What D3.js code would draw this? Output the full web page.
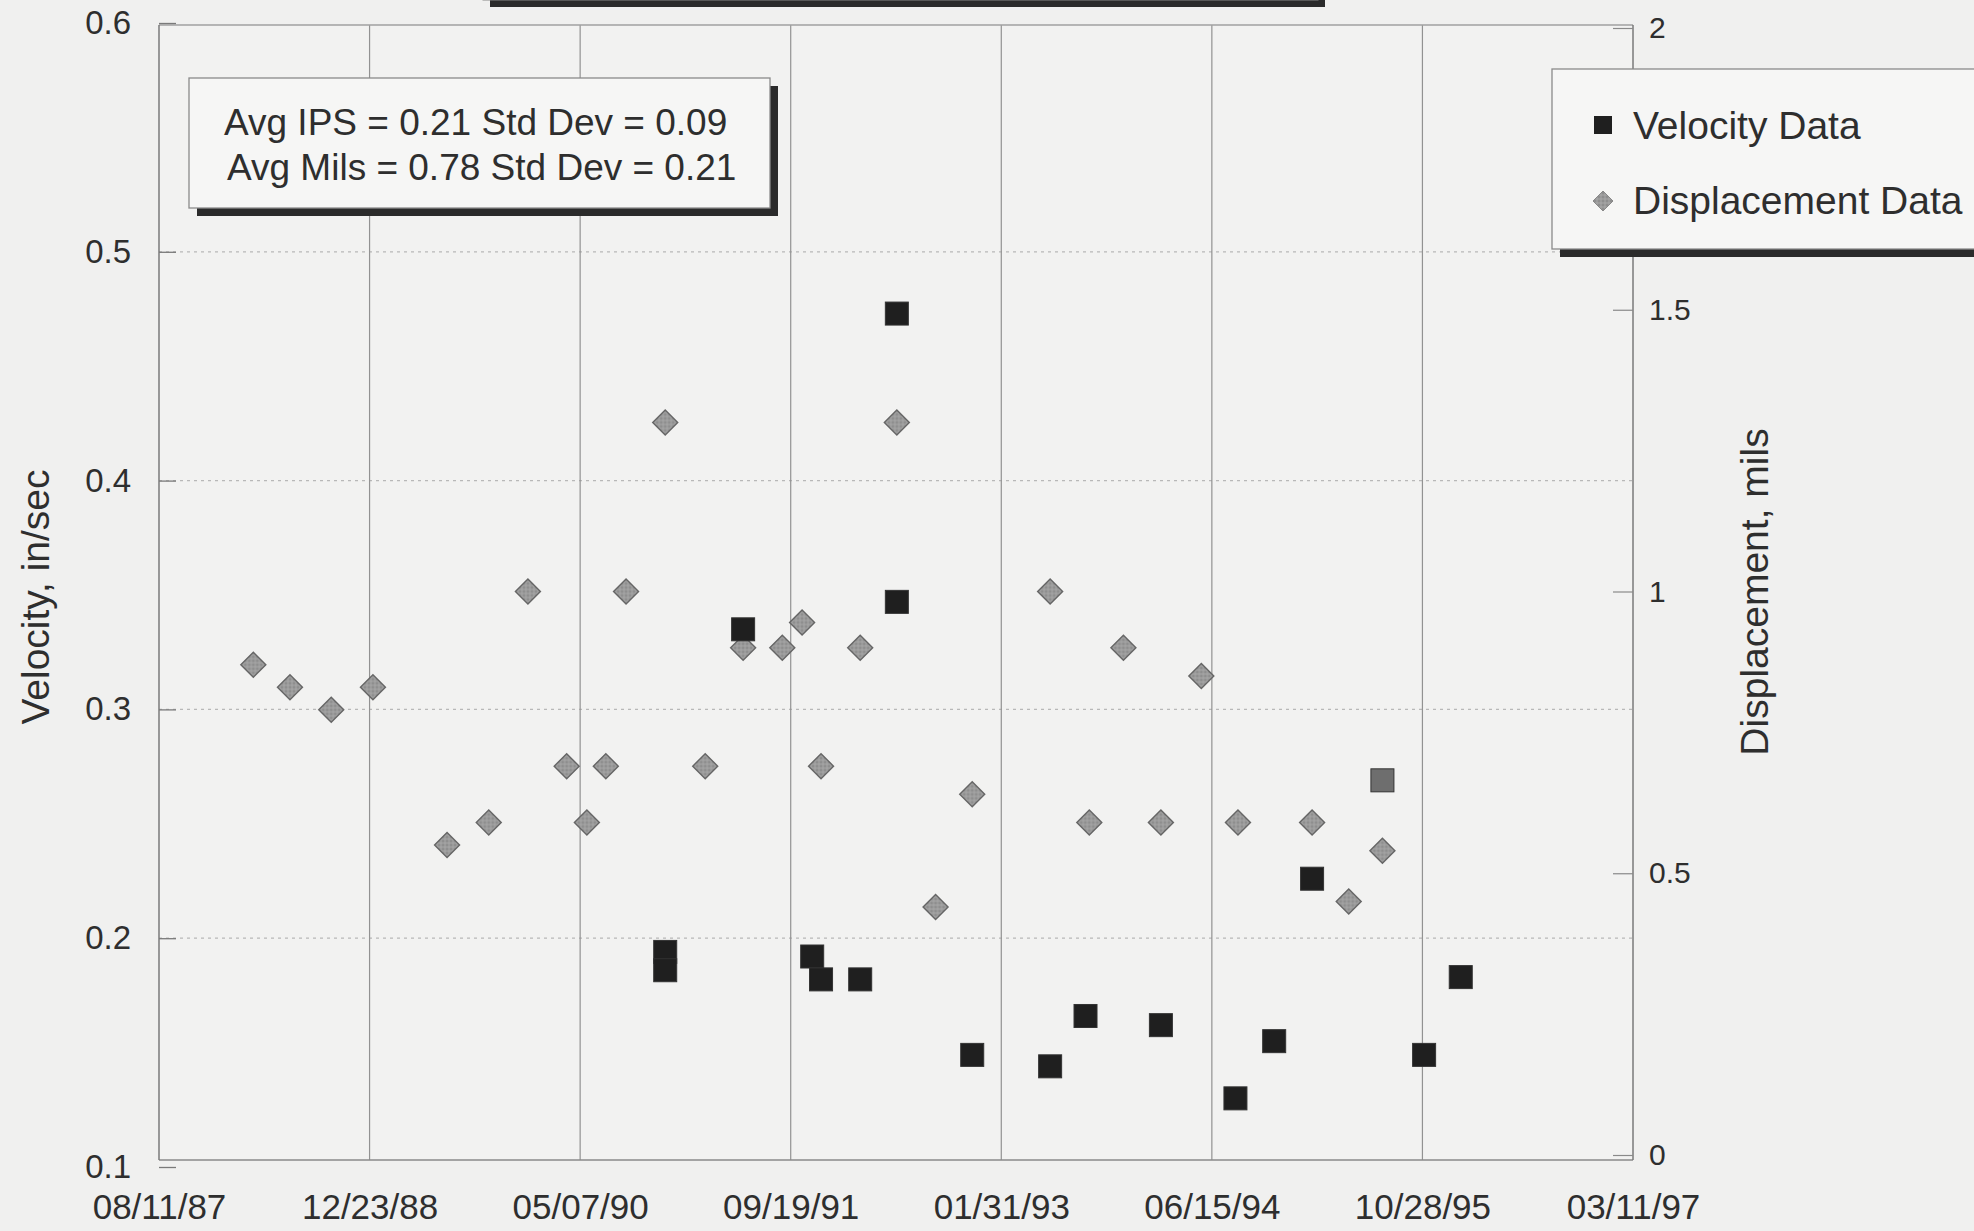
<!DOCTYPE html>
<html>
<head>
<meta charset="utf-8">
<script src="https://cdn.jsdelivr.net/npm/d3@7"></script>
<style>
  html, body { margin: 0; padding: 0; background: #f0f0ef; overflow: hidden; }
  svg { display: block; }
  text { font-family: "Liberation Sans", Arial, sans-serif; fill: #2e2e2e; }
</style>
</head>
<body>
<svg id="chart" width="1974" height="1231"></svg>
<script>
// ---------------- DATA ----------------
const xTickLabels = ["08/11/87", "12/23/88", "05/07/90", "09/19/91", "01/31/93", "06/15/94", "10/28/95", "03/11/97"];
const leftTicks = [0.1, 0.2, 0.3, 0.4, 0.5, 0.6];
const rightTicks = [0, 0.5, 1, 1.5, 2];

const velocityDates = [
  "1990-11-25", "1990-11-25", "1991-05-29", "1991-11-09", "1991-11-30", "1992-03-02",
  "1992-05-28", "1992-05-28", "1992-11-23", "1993-05-27", "1993-08-19", "1994-02-14",
  "1994-08-10", "1994-11-10", "1995-02-08", "1995-07-25", "1995-11-01", "1996-01-27"
];
const velocityValues = [
  0.194, 0.186, 0.335, 0.192, 0.182, 0.182,
  0.473, 0.347, 0.149, 0.144, 0.166, 0.162,
  0.130, 0.155, 0.226, 0.269, 0.149, 0.183
];

const displacementDates = [
  "1988-03-22", "1988-06-17", "1988-09-23", "1988-12-31", "1989-06-25", "1989-10-02",
  "1990-01-03", "1990-04-05", "1990-05-23", "1990-07-07", "1990-08-24", "1990-11-25",
  "1991-02-28", "1991-05-29", "1991-08-30", "1991-10-16", "1991-11-30", "1992-03-02",
  "1992-05-28", "1992-08-28", "1992-11-23", "1993-05-27", "1993-08-28", "1993-11-17",
  "1994-02-14", "1994-05-21", "1994-08-16", "1995-02-08", "1995-05-06", "1995-07-25"
];
const displacementValues = [
  0.87, 0.83, 0.79, 0.83, 0.55, 0.59,
  1.00, 0.69, 0.59, 0.69, 1.00, 1.30,
  0.69, 0.90, 0.90, 0.945, 0.69, 0.90,
  1.30, 0.44, 0.64, 1.00, 0.59, 0.90,
  0.59, 0.85, 0.59, 0.59, 0.45, 0.54
];

const statsLines = ["Avg IPS = 0.21 Std Dev = 0.09", "Avg Mils = 0.78 Std Dev = 0.21"];
const seriesNames = ["Velocity Data", "Displacement Data"];
const leftTitle = "Velocity, in/sec";
const rightTitle = "Displacement, mils";

// ---------------- LAYOUT ----------------
const svg = d3.select("#chart");
const parseISO = d3.utcParse("%Y-%m-%d");
const parseTick = d3.utcParse("%m/%d/%y");
const fmtTick = d3.utcFormat("%m/%d/%y");
const tickDates = xTickLabels.map(parseTick);

const plot = { left: 159, right: 1633, top: 25, bottom: 1160 };

const x = d3.scaleUtc()
  .domain([tickDates[0], tickDates[tickDates.length - 1]])
  .range([plot.left, plot.right]);
const yL = d3.scaleLinear().domain([0.1, 0.6]).range([1167, 23]);
const yR = d3.scaleLinear().domain([0, 2]).range([1155, 28]);

// plot frame background
svg.append("rect")
  .attr("x", plot.left).attr("y", plot.top)
  .attr("width", plot.right - plot.left).attr("height", plot.bottom - plot.top)
  .attr("fill", "#f2f2f1");

// horizontal gridlines (faint, dotted)
svg.append("g").selectAll("line")
  .data(leftTicks.filter(d => d > 0.1 && d < 0.6))
  .join("line")
  .attr("x1", plot.left).attr("x2", plot.right)
  .attr("y1", d => yL(d)).attr("y2", d => yL(d))
  .attr("stroke", "#b8b8b8").attr("stroke-width", 1.2)
  .attr("stroke-dasharray", "3,4");

// vertical gridlines
svg.append("g").selectAll("line")
  .data(tickDates.slice(1, -1))
  .join("line")
  .attr("x1", d => x(d)).attr("x2", d => x(d))
  .attr("y1", plot.top).attr("y2", plot.bottom)
  .attr("stroke", "#929292").attr("stroke-width", 1.2);

// frame lines
svg.append("line").attr("x1", plot.left).attr("x2", plot.right)
  .attr("y1", plot.top).attr("y2", plot.top)
  .attr("stroke", "#a0a0a0").attr("stroke-width", 1.3);
svg.append("line").attr("x1", plot.left).attr("x2", plot.right)
  .attr("y1", plot.bottom).attr("y2", plot.bottom)
  .attr("stroke", "#8a8a8a").attr("stroke-width", 1.5);

// left axis
const gL = svg.append("g").attr("transform", `translate(${plot.left},0)`)
  .call(d3.axisLeft(yL).tickValues(leftTicks).tickFormat(d3.format(".1f"))
    .tickSizeInner(-17).tickSizeOuter(0).tickPadding(28));
gL.select(".domain").attr("stroke", "#7a7a7a").attr("stroke-width", 1.5)
  .attr("d", `M0,${plot.top}V${plot.bottom}`);
gL.selectAll(".tick line").attr("stroke", "#7a7a7a").attr("stroke-width", 1.3);
gL.selectAll(".tick text").attr("font-size", 33).attr("fill", "#333")
  .style("font-family", '"Liberation Sans", Arial, sans-serif');

// right axis
const gR = svg.append("g").attr("transform", `translate(${plot.right},0)`)
  .call(d3.axisRight(yR).tickValues(rightTicks).tickFormat(d => String(d))
    .tickSizeInner(-20).tickSizeOuter(0).tickPadding(16));
gR.select(".domain").attr("stroke", "#7a7a7a").attr("stroke-width", 1.5)
  .attr("d", `M0,${plot.top}V${plot.bottom}`);
gR.selectAll(".tick line").attr("stroke", "#8a8a8a").attr("stroke-width", 1.2);
gR.selectAll(".tick text").attr("font-size", 30).attr("fill", "#333")
  .style("font-family", '"Liberation Sans", Arial, sans-serif');

// bottom axis
const gB = svg.append("g").attr("transform", `translate(0,${plot.bottom})`)
  .call(d3.axisBottom(x).tickValues(tickDates).tickFormat(fmtTick)
    .tickSize(0).tickPadding(34));
gB.select(".domain").remove();
gB.selectAll(".tick text").attr("font-size", 35).attr("fill", "#333")
  .style("font-family", '"Liberation Sans", Arial, sans-serif');

// axis titles
svg.append("text")
  .attr("transform", "translate(35,597) rotate(-90)")
  .attr("text-anchor", "middle").attr("dominant-baseline", "central")
  .attr("font-size", 39).attr("fill", "#333")
  .text(leftTitle);
svg.append("text")
  .attr("transform", "translate(1754,592) rotate(-90)")
  .attr("text-anchor", "middle").attr("dominant-baseline", "central")
  .attr("font-size", 39).attr("fill", "#333")
  .text(rightTitle);

// ---------------- MARKS ----------------
const defs = svg.append("defs");
const pat = defs.append("pattern").attr("id", "hatch")
  .attr("width", 4).attr("height", 4).attr("patternUnits", "userSpaceOnUse");
pat.append("rect").attr("width", 4).attr("height", 4).attr("fill", "#8e8e8e");
pat.append("path").attr("d", "M0,2H4M2,0V4").attr("stroke", "#a9a9a9").attr("stroke-width", 1);

const dispData = displacementDates.map((d, i) => ({ date: parseISO(d), value: displacementValues[i] }));
const velData = velocityDates.map((d, i) => ({ date: parseISO(d), value: velocityValues[i] }));

const dSize = 12.5; // half-diagonal
svg.append("g").selectAll("path")
  .data(dispData)
  .join("path")
  .attr("transform", d => `translate(${x(d.date)},${yR(d.value)})`)
  .attr("d", `M0,${-dSize}L${dSize},0L0,${dSize}L${-dSize},0Z`)
  .attr("fill", "url(#hatch)").attr("stroke", "#666").attr("stroke-width", 1.4);

const sq = 23;
svg.append("g").selectAll("rect")
  .data(velData)
  .join("rect")
  .attr("x", d => x(d.date) - sq / 2)
  .attr("y", d => yL(d.value) - sq / 2)
  .attr("width", sq).attr("height", sq)
  .attr("fill", (d, i) => i === 15 ? "#6e6e6e" : "#1f1f1f")
  .attr("stroke", "#333").attr("stroke-width", 1);

// ---------------- BOXES ----------------
// top (cut-off) title box shadow
svg.append("rect").attr("x", 490).attr("y", -73).attr("width", 835).attr("height", 80).attr("fill", "#2b2b2b");
svg.append("rect").attr("x", 483).attr("y", -80).attr("width", 835).attr("height", 80)
  .attr("fill", "#f4f4f3").attr("stroke", "#888");

// stats box
svg.append("rect").attr("x", 197).attr("y", 86).attr("width", 581).attr("height", 130).attr("fill", "#2b2b2b");
svg.append("rect").attr("x", 189).attr("y", 78).attr("width", 581).attr("height", 130)
  .attr("fill", "#f6f6f5").attr("stroke", "#8a8a8a").attr("stroke-width", 1.3);
svg.append("g").selectAll("text")
  .data(statsLines)
  .join("text")
  .attr("x", (d, i) => 224 + i * 3)
  .attr("y", (d, i) => 135 + i * 45)
  .attr("font-size", 37).attr("fill", "#2a2a2a")
  .text(d => d);

// legend box
svg.append("rect").attr("x", 1560).attr("y", 77).attr("width", 500).attr("height", 180).attr("fill", "#2b2b2b");
svg.append("rect").attr("x", 1552).attr("y", 69).attr("width", 500).attr("height", 180)
  .attr("fill", "#f6f6f5").attr("stroke", "#8a8a8a").attr("stroke-width", 1.3);

const legend = svg.append("g");
legend.append("rect").attr("x", 1594).attr("y", 116).attr("width", 18).attr("height", 18)
  .attr("fill", "#1f1f1f");
legend.append("path").attr("transform", "translate(1603,201)")
  .attr("d", "M0,-10L10,0L0,10L-10,0Z")
  .attr("fill", "url(#hatch)").attr("stroke", "#888").attr("stroke-width", 1);
legend.selectAll("text")
  .data(seriesNames)
  .join("text")
  .attr("x", 1633)
  .attr("y", (d, i) => 125 + i * 75)
  .attr("dominant-baseline", "central")
  .attr("font-size", 39).attr("fill", "#2a2a2a")
  .text(d => d);
</script>
</body>
</html>
